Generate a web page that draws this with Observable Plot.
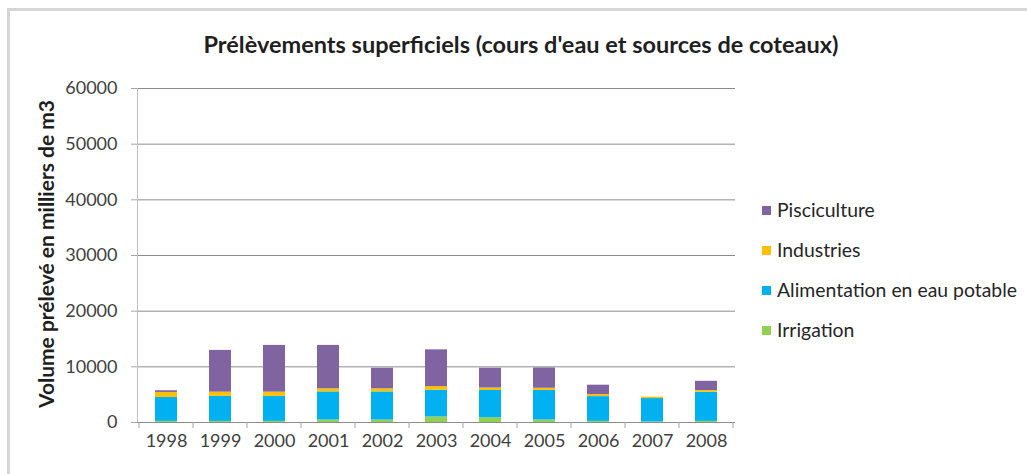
<!DOCTYPE html>
<html>
<head>
<meta charset="utf-8">
<script src="https://cdn.jsdelivr.net/npm/d3@7"></script>
<script src="https://cdn.jsdelivr.net/npm/@observablehq/plot@0.6"></script>
<style>
  html, body { margin: 0; padding: 0; background: #fff; }
  #wrap { position: relative; width: 1027px; height: 474px; overflow: hidden; font-family: Lato, "Open Sans", sans-serif; }
  #frame { position: absolute; left: 7px; top: 8px; right: -10px; bottom: -10px; border-top: 3px solid #d6d6d6; border-left: 3px solid #d6d6d6; }
  #title { position: absolute; left: 0; width: 1042px; top: 30px; text-align: center; font-weight: bold; font-size: 23.5px; color: #1f1f1f; }
  #ylabel { position: absolute; left: 45px; top: 254px; transform: translate(-50%, -50%) rotate(-90deg); white-space: nowrap; font-weight: bold; font-size: 21px; color: #1f1f1f; }
  #legend { position: absolute; left: 762px; top: 198px; }
  .item { height: 40px; display: flex; align-items: flex-start; font-size: 19.4px; color: #262626; line-height: 24px; }
  .sw { width: 9px; height: 9px; margin-right: 6px; margin-top: 8px; }
  #chart { position: absolute; left: 0; top: 0; }
</style>
</head>
<body>
<div id="wrap">
  <div id="frame"></div>
  <div id="chart"></div>
  <div id="title"></div>
  <div id="ylabel"></div>
  <div id="legend"></div>
</div>
<script>
const titleText = "Prélèvements superficiels (cours d'eau et sources de coteaux)";
const yLabelText = "Volume prélevé en milliers de m3";
const years = ["1998","1999","2000","2001","2002","2003","2004","2005","2006","2007","2008"];
const seriesNames = ["Irrigation", "Alimentation en eau potable", "Industries", "Pisciculture"];
const seriesColors = ["#92D050", "#00B0F0", "#FFC000", "#8064A2"];
const irrigation   = [200, 200, 200, 450, 450, 1000, 850, 450, 200, 100, 200];
const eauPotable   = [4300, 4500, 4500, 5050, 5050, 4800, 4900, 5300, 4450, 4200, 5250];
const industries   = [900, 750, 750, 550, 550, 650, 450, 400, 350, 250, 300];
const pisciculture = [300, 7500, 8400, 7800, 3700, 6600, 3550, 3650, 1700, 0, 1650];
const yTicks = [0, 10000, 20000, 30000, 40000, 50000, 60000];

const seriesValues = [irrigation, eauPotable, industries, pisciculture];
const data = [];
seriesNames.forEach((s, i) => years.forEach((y, j) => data.push({year: y, series: s, value: seriesValues[i][j]})));

document.getElementById("title").textContent = titleText;
document.getElementById("ylabel").textContent = yLabelText;

const legend = document.getElementById("legend");
[...seriesNames].reverse().forEach(name => {
  const c = seriesColors[seriesNames.indexOf(name)];
  const it = document.createElement("div");
  it.className = "item";
  it.innerHTML = `<div class="sw" style="background:${c}"></div><span></span>`;
  it.querySelector("span").textContent = name;
  legend.appendChild(it);
});

function categoryTicks(index, scales, values, dims) {
  const x = scales.x, y = scales.y;
  const step = x.step ? x.step() : (x(years[1]) - x(years[0]));
  const bw = x.bandwidth ? x.bandwidth() : 0;
  const y0 = y(0);
  const g = d3.create("svg:g").attr("stroke", "#a6a6a6").attr("stroke-width", 1);
  const pos = years.map(v => x(v) - (step - bw) / 2);
  pos.push(x(years[years.length - 1]) + bw + (step - bw) / 2);
  pos.forEach(p => g.append("line").attr("x1", p).attr("x2", p).attr("y1", y0).attr("y2", y0 + 6));
  return g.node();
}

const plot = Plot.plot({
  width: 1027,
  height: 474,
  marginLeft: 137,
  marginRight: 292,
  marginTop: 88,
  marginBottom: 52,
  style: {fontFamily: "Lato, 'Open Sans', sans-serif", fontSize: "18px", color: "#404040", background: "transparent", overflow: "visible"},
  x: {type: "band", domain: years, paddingInner: 0.6, paddingOuter: 0.3, label: null},
  y: {domain: [0, 60000], label: null},
  color: {domain: seriesNames, range: seriesColors},
  marks: [
    Plot.gridY(yTicks, {stroke: "#8c8c8c", strokeOpacity: 1, strokeWidth: 1}),
    Plot.axisY({ticks: yTicks, tickSize: 6, tickPadding: 14, stroke: "#a6a6a6", tickFormat: d => String(d), label: null, fill: "#404040"}),
    Plot.frame({anchor: "left", stroke: "#bfbfbf"}),
    Plot.barY(data, Plot.stackY({x: "year", y: "value", fill: "series", z: "series", order: seriesNames})),
    Plot.ruleY([0], {stroke: "#8c8c8c"}),
    Plot.axisX({tickSize: 0, tickPadding: 12, label: null, fill: "#404040"}),
    categoryTicks
  ]
});
document.getElementById("chart").appendChild(plot);
</script>
</body>
</html>
